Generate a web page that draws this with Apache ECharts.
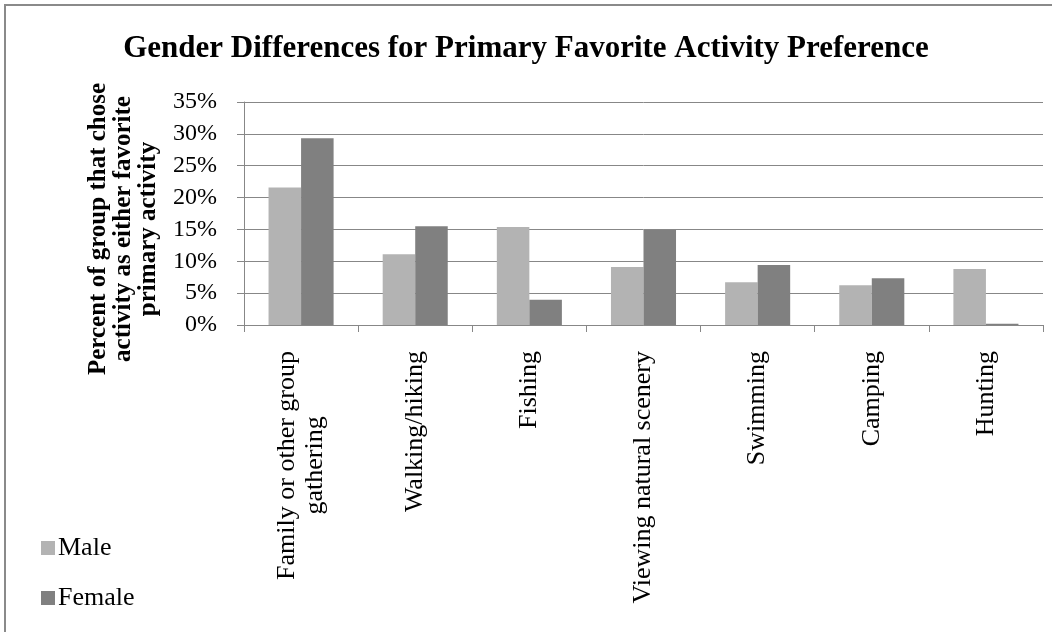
<!DOCTYPE html>
<html>
<head>
<meta charset="utf-8">
<script src="https://cdn.jsdelivr.net/npm/echarts@6/dist/echarts.min.js"></script>
<style>
  html, body { margin: 0; padding: 0; background: #fff; }
  #chart { width: 1052px; height: 632px; }
</style>
</head>
<body>
<div id="chart"></div>
<script>
// Activity categories and share (%) of each gender naming it a favorite
const categories = [
  'Family or other group\ngathering',
  'Walking/hiking',
  'Fishing',
  'Viewing natural scenery',
  'Swimming',
  'Camping',
  'Hunting'
];
const maleValues = [21.6, 11.1, 15.4, 9.1, 6.7, 6.25, 8.8];
const femaleValues = [29.3, 15.5, 3.95, 14.9, 9.4, 7.35, 0.2];
const yTicks = [0, 5, 10, 15, 20, 25, 30, 35];

const FONT = '"Liberation Serif", "Times New Roman", serif';
const GRID_COLOR = '#878787';

const chart = echarts.init(document.getElementById('chart'), null, { renderer: 'canvas' });

chart.setOption({
  backgroundColor: '#ffffff',
  animation: false,
  title: {
    text: 'Gender Differences for Primary Favorite Activity Preference',
    left: 'center',
    top: 28,
    textStyle: { fontFamily: FONT, fontWeight: 'bold', fontSize: 31, color: '#000' }
  },
  legend: {
    orient: 'vertical',
    left: 36,
    top: 530,
    itemWidth: 14,
    itemHeight: 14,
    itemGap: 24,
    icon: 'rect',
    textStyle: { fontFamily: FONT, fontSize: 26, color: '#000', padding: [0, 0, 0, -2] },
    data: ['Male', 'Female']
  },
  grid: { left: 244, right: 9, top: 102, bottom: 307, containLabel: false },
  xAxis: {
    type: 'category',
    data: categories,
    axisLine: { show: true, lineStyle: { color: GRID_COLOR, width: 1 } },
    axisTick: { show: true, length: 7, lineStyle: { color: GRID_COLOR } },
    axisLabel: {
      interval: 0,
      rotate: 90,
      margin: 26,
      color: '#000',
      fontFamily: FONT,
      fontSize: 26,
      formatter: function (v) {
        return v.split('\n').map(function (s) { return '{c|' + s + '}'; }).join('\n');
      },
      rich: { c: { align: 'center', fontFamily: FONT, fontSize: 26, color: '#000', lineHeight: 28 } }
    }
  },
  yAxis: {
    type: 'value',
    min: yTicks[0],
    max: yTicks[yTicks.length - 1],
    interval: yTicks[1] - yTicks[0],
    axisLine: { show: true, lineStyle: { color: GRID_COLOR, width: 1 } },
    axisTick: { show: true, length: 7, lineStyle: { color: GRID_COLOR } },
    splitLine: { show: true, lineStyle: { color: GRID_COLOR, width: 1 } },
    axisLabel: {
      margin: 27,
      color: '#000',
      fontFamily: FONT,
      fontSize: 24,
      formatter: '{value}%'
    }
  },
  series: [
    {
      name: 'Male',
      type: 'bar',
      data: maleValues,
      barGap: '0%',
      barCategoryGap: '43%',
      itemStyle: { color: '#b3b3b3' }
    },
    {
      name: 'Female',
      type: 'bar',
      data: femaleValues,
      itemStyle: { color: '#808080' }
    }
  ],
  graphic: [
    {
      type: 'text',
      x: 124,
      y: 229,
      rotation: Math.PI / 2,
      style: {
        text: 'Percent of group that chose\nactivity as either favorite\nprimary activity',
        font: 'bold 25px ' + FONT,
        fill: '#000',
        align: 'center',
        verticalAlign: 'middle',
        lineHeight: 25
      }
    },
    {
      type: 'polyline',
      shape: { points: [[5, 632], [5, 5], [1052, 5]] },
      style: { stroke: '#8a8a8a', lineWidth: 2, fill: null }
    }
  ]
});
</script>
</body>
</html>
